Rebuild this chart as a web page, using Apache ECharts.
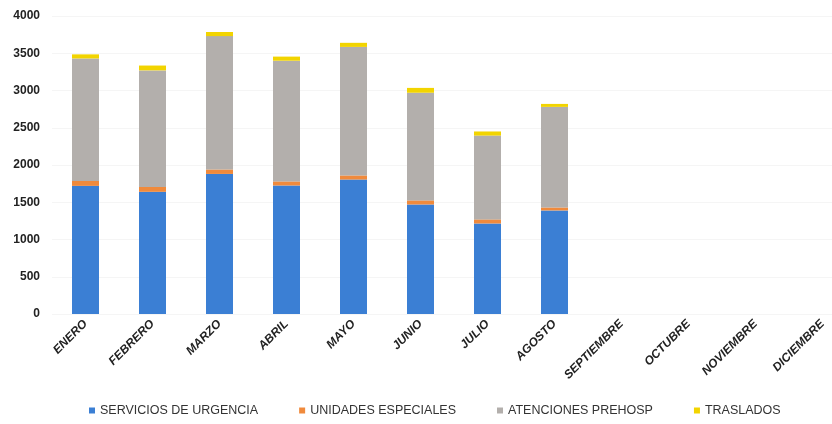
<!DOCTYPE html>
<html><head><meta charset="utf-8">
<script src="https://cdn.jsdelivr.net/npm/echarts@6/dist/echarts.min.js"></script>
<style>html,body{margin:0;padding:0;background:#fff;overflow:hidden;width:832px;height:424px}#c{width:856px;height:424px}</style>
</head><body><div id="c"></div>
<script>
const months = ['ENERO','FEBRERO','MARZO','ABRIL','MAYO','JUNIO','JULIO','AGOSTO','SEPTIEMBRE','OCTUBRE','NOVIEMBRE','DICIEMBRE'];
const servicios = [1720, 1640, 1880, 1725, 1805, 1470, 1215, 1390, null, null, null, null];
const unidades  = [65, 65, 60, 55, 55, 55, 55, 40, null, null, null, null];
const atenciones= [1645, 1565, 1790, 1620, 1725, 1445, 1125, 1350, null, null, null, null];
const traslados = [55, 65, 55, 55, 55, 65, 55, 40, null, null, null, null];
const yTicks = [0, 500, 1000, 1500, 2000, 2500, 3000, 3500, 4000];

const names = ['SERVICIOS DE URGENCIA','UNIDADES ESPECIALES','ATENCIONES PREHOSP','TRASLADOS'];
const colors = ['#3b7fd4','#f08a3c','#b3afac','#f2d400'];
const datas = [servicios, unidades, atenciones, traslados];

const chart = echarts.init(document.getElementById('c'));
chart.setOption({
  animation: false,
  color: colors,
  grid: {left: 52, right: 0, top: 16, bottom: 110},
  xAxis: {
    type: 'category', data: months,
    axisLine: {show: false}, axisTick: {show: false},
    axisLabel: {rotate: 45, interval: 0, color: '#222', fontFamily: 'Liberation Sans', fontWeight: 'bold', fontStyle: 'italic', fontSize: 12, margin: 8}
  },
  yAxis: {
    type: 'value', min: yTicks[0], max: yTicks[yTicks.length-1], interval: 500,
    axisLine: {show: false}, axisTick: {show: false},
    axisLabel: {color: '#222', fontFamily: 'Liberation Sans', fontWeight: 'bold', fontSize: 12, margin: 12, formatter: v => String(v)},
    splitLine: {lineStyle: {color: '#f5f5f5'}}
  },
  legend: {
    bottom: 2, left: 84, itemWidth: 6, itemHeight: 6, itemGap: 41, icon: 'rect',
    textStyle: {color: '#333', fontFamily: 'Liberation Sans Narrow, Liberation Sans', fontSize: 12.5},
    data: names
  },
  series: names.map((n, i) => ({
    name: n, type: 'bar', stack: 'total', barWidth: 27, data: datas[i],
    itemStyle: {color: colors[i]}
  }))
});
</script></body></html>
